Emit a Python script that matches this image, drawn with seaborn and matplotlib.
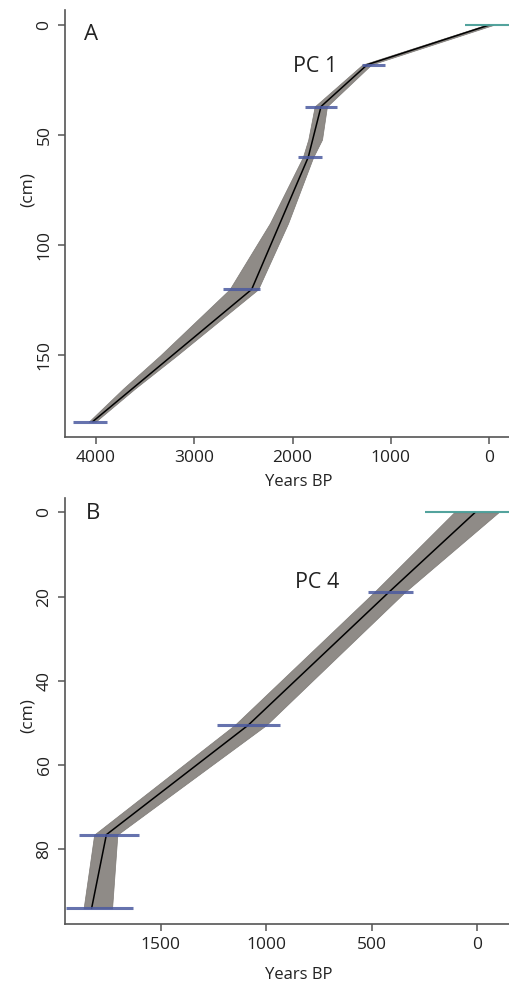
import matplotlib
matplotlib.use("Agg")
import matplotlib.pyplot as plt
import seaborn as sns
import numpy as np
import pandas as pd

# ---------------- data ----------------
# Panel A (PC 1)
A_depth = [0, 18, 37, 60, 120, 180]
A_age = [0, 1240, 1710, 1840, 2415, 4030]
A_err_old = [250, 1295, 1875, 1947, 2711, 4234]
A_err_young = [-250, 1060, 1550, 1703, 2330, 3888]
A_band_depth = [0, 18, 37, 52, 60, 90, 120, 150, 165, 180]
A_band_old = [40, 1290, 1775, 1840, 1895, 2230, 2640, 3345, 3720, 4070]
A_band_young = [-40, 1200, 1650, 1700, 1790, 2045, 2350, 3175, 3600, 4000]
A_xticks = [4000, 3000, 2000, 1000, 0]
A_yticks = [0, 50, 100, 150]

# Panel B (PC 4)
B_depth = [0, 19, 50.5, 76.5, 94]
B_age = [10, 420, 1085, 1757, 1827]
B_err_old = [248, 516, 1235, 1887, 1946]
B_err_young = [-155, 303, 935, 1603, 1630]
B_band_depth = [0, 19, 50.5, 76.5, 94]
B_band_old = [110, 490, 1150, 1815, 1865]
B_band_young = [-100, 345, 1000, 1705, 1730]
B_xticks = [1500, 1000, 500, 0]
B_yticks = [0, 20, 40, 60, 80]

# ---------------- style ----------------
sns.set_style("ticks")
plt.rcParams['font.family'] = ['Open Sans', 'DejaVu Sans']

W, H = 509, 988
fig = plt.figure(figsize=(W / 100, H / 100), dpi=100)

SPINE = '#555555'
BAND = '#8f8b87'
BLUE = '#4b5aa0'
TEAL = '#4a9e98'


def panel(rect_px, depth, age, eo, ey, bd, bo, byg, xt, yt, xlim, ylim):
    l, t, r, b = rect_px
    ax = fig.add_axes([l / W, 1 - b / H, (r - l) / W, (b - t) / H])
    ax.fill_betweenx(bd, bo, byg, color=BAND, lw=0.5, edgecolor='#7d7975', zorder=1)
    df = pd.DataFrame({'age': age, 'depth': depth})
    sns.lineplot(data=df, x='age', y='depth', sort=False, estimator=None,
                 color='black', lw=1.1, ax=ax, zorder=3)
    ax.hlines(depth[1:], ey[1:], eo[1:], colors=BLUE, lw=2.2, alpha=0.85,
              zorder=4, clip_on=False)
    ax.hlines(depth[:1], ey[:1], eo[:1], colors=TEAL, lw=1.5, alpha=0.95,
              zorder=4, clip_on=True)
    ax.set_xlim(*xlim)
    ax.set_ylim(*ylim)
    ax.set_xticks(xt)
    ax.set_yticks(yt)
    ax.set_xlabel('')
    ax.set_ylabel('')
    for s in ['top', 'right']:
        ax.spines[s].set_visible(False)
    for s in ['left', 'bottom']:
        ax.spines[s].set_color(SPINE)
        ax.spines[s].set_linewidth(1.2)
    ax.tick_params(axis='both', colors=SPINE, labelcolor='#222222', labelsize=12.5,
                   length=5, width=1.1)
    ax.tick_params(axis='x', pad=4)
    ax.tick_params(axis='y', pad=4)
    for lab in ax.get_yticklabels():
        lab.set_rotation(90)
        lab.set_va('center')
    return ax


axA = panel((65, 10, 509, 437), A_depth, A_age, A_err_old, A_err_young,
            A_band_depth, A_band_old, A_band_young, A_xticks, A_yticks,
            (4312, -200), (187, -6.8))
axB = panel((65, 498, 509, 924), B_depth, B_age, B_err_old, B_err_young,
            B_band_depth, B_band_old, B_band_young, B_xticks, B_yticks,
            (1953, -150), (97.7, -3.4))


def ftext(x, y, s, **kw):
    fig.text(x / W, 1 - y / H, s, ha='center', va='center', color='#222222', **kw)


ftext(91, 34, 'A', fontsize=16)
ftext(315, 67, 'PC 1', fontsize=15.5)
ftext(299, 482, 'Years BP', fontsize=12)
ftext(28, 190, '(cm)', fontsize=12.5, rotation=90)

ftext(93, 513, 'B', fontsize=16)
ftext(317, 583, 'PC 4', fontsize=15.5)
ftext(299, 975, 'Years BP', fontsize=12)
ftext(28, 716, '(cm)', fontsize=12.5, rotation=90)

fig.savefig('out.png', dpi=100)
